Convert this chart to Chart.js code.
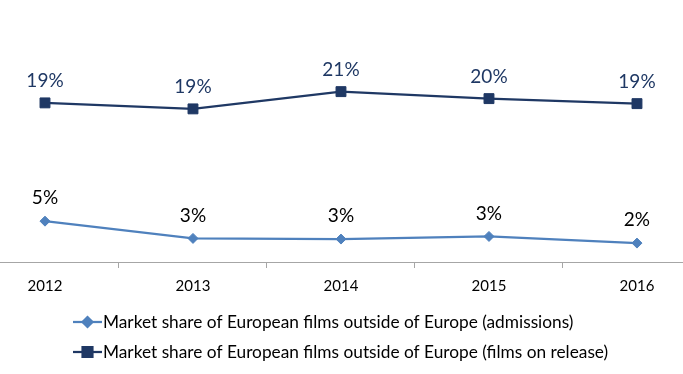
<!DOCTYPE html>
<html><head><meta charset="utf-8">
<script src="https://cdn.jsdelivr.net/npm/chart.js@4/dist/chart.umd.min.js"></script>
<style>html,body{margin:0;padding:0;background:#fff;overflow:hidden}</style>
</head><body>
<canvas id="c" width="683" height="374"></canvas>
<script>
const categories = ['2012', '2013', '2014', '2015', '2016'];
const admissionsShare = [4.97, 2.87, 2.79, 3.11, 2.30];
const releaseShare = [19.36, 18.63, 20.73, 19.88, 19.27];
const seriesNames = [
  'Market share of European films outside of Europe (admissions)',
  'Market share of European films outside of Europe (films on release)'
];

const FONT = 'Lato, "Open Sans", sans-serif';
const NAVY = '#1F3864';
const LIGHT = '#4F81BD';
const AXIS = '#A6A6A6';

const toPoints = arr => arr.map((v, i) => ({x: i, y: v}));

const valueLabels = {
  id: 'valueLabels',
  afterDatasetsDraw(chart) {
    const ctx = chart.ctx;
    chart.data.datasets.forEach((ds, di) => {
      const meta = chart.getDatasetMeta(di);
      ctx.save();
      ctx.font = '19px ' + FONT;
      ctx.fillStyle = ds.labelColor;
      ctx.textAlign = 'center';
      ctx.textBaseline = 'middle';
      meta.data.forEach((el, i) => {
        ctx.fillText(Math.round(ds.data[i].y) + '%', el.x, el.y - ds.labelOffset);
      });
      ctx.restore();
    });
  }
};

const bottomLegend = {
  id: 'bottomLegend',
  afterDraw(chart) {
    const ctx = chart.ctx;
    const x0 = 73, lineLen = 29;
    chart.data.datasets.forEach((ds, i) => {
      const y = chart.height - 52 + i * 30;
      ctx.save();
      ctx.strokeStyle = ds.borderColor;
      ctx.lineWidth = ds.borderWidth;
      ctx.beginPath();
      ctx.moveTo(x0, y);
      ctx.lineTo(x0 + lineLen, y);
      ctx.stroke();
      ctx.fillStyle = ds.pointBackgroundColor;
      ctx.strokeStyle = ds.pointBorderColor;
      Chart.helpers.drawPoint(ctx, {pointStyle: ds.pointStyle, radius: ds.pointRadius, rotation: 0, borderWidth: 1}, x0 + lineLen / 2, y);
      ctx.font = '17.3px ' + FONT;
      ctx.fillStyle = '#000';
      ctx.textAlign = 'left';
      ctx.textBaseline = 'middle';
      ctx.fillText(ds.label, x0 + lineLen + 1, y);
      ctx.restore();
    });
  }
};

const halfSteps = categories.flatMap((c, i) => i < categories.length - 1 ? [i, i + 0.5] : [i]);

new Chart(document.getElementById('c'), {
  type: 'line',
  data: {
    datasets: [
      {
        label: seriesNames[0],
        data: toPoints(admissionsShare),
        borderColor: LIGHT,
        backgroundColor: LIGHT,
        pointBackgroundColor: LIGHT,
        pointBorderColor: LIGHT,
        borderWidth: 2.25,
        pointStyle: 'rectRot',
        pointRadius: 5,
        pointBorderWidth: 1,
        tension: 0,
        clip: false,
        labelColor: '#000',
        labelOffset: 23
      },
      {
        label: seriesNames[1],
        data: toPoints(releaseShare),
        borderColor: NAVY,
        backgroundColor: NAVY,
        pointBackgroundColor: NAVY,
        pointBorderColor: NAVY,
        borderWidth: 2.25,
        pointStyle: 'rect',
        pointRadius: 7,
        pointBorderWidth: 1,
        tension: 0,
        clip: false,
        labelColor: NAVY,
        labelOffset: 22
      }
    ]
  },
  options: {
    responsive: false,
    devicePixelRatio: 1,
    animation: false,
    layout: {autoPadding: false, padding: {left: 0, right: 0, top: 0, bottom: 70}},
    plugins: {legend: {display: false}, tooltip: {enabled: false}},
    scales: {
      x: {
        type: 'linear',
        min: -0.304,
        max: 4.311,
        afterBuildTicks(ax) { ax.ticks = halfSteps.map(v => ({value: v})); },
        afterFit(ax) { ax.paddingLeft = 0; ax.paddingRight = 0; },
        ticks: {
          autoSkip: false,
          maxRotation: 0,
          padding: 9,
          color: '#000',
          font: {family: FONT, size: 15},
          callback(v) { return Number.isInteger(v) ? categories[v] : ''; }
        },
        grid: {
          drawOnChartArea: false,
          tickLength: 6,
          tickColor(ctx) { return ctx.tick && Number.isInteger(ctx.tick.value) ? 'rgba(0,0,0,0)' : AXIS; }
        },
        border: {color: AXIS, width: 1}
      },
      y: {display: false, min: 0, max: 31.88}
    }
  },
  plugins: [valueLabels, bottomLegend]
});
</script>
</body></html>
